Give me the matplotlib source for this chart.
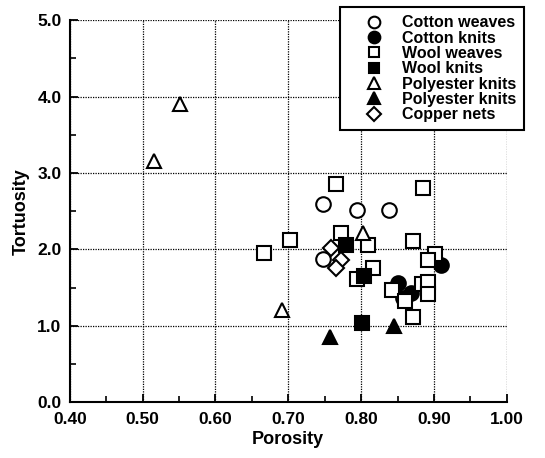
import matplotlib
matplotlib.use("Agg")
import matplotlib.pyplot as plt
from matplotlib.ticker import MultipleLocator, FormatStrFormatter

plt.rcParams['font.family'] = ['Liberation Sans', 'DejaVu Sans']
plt.rcParams['font.weight'] = 'bold'

# porosity / tortuosity
cotton_weaves_x = [0.747, 0.794, 0.838, 0.747]
cotton_weaves_y = [2.59, 2.51, 2.52, 1.88]

cotton_knits_x = [0.910, 0.851, 0.869, 0.857]
cotton_knits_y = [1.79, 1.56, 1.43, 1.36]

wool_weaves_x = [0.766, 0.885, 0.703, 0.667, 0.773, 0.809, 0.871, 0.901, 0.892,
                 0.816, 0.794, 0.843, 0.860, 0.883, 0.892, 0.892, 0.871]
wool_weaves_y = [2.85, 2.80, 2.12, 1.95, 2.22, 2.06, 2.11, 1.94, 1.86,
                 1.76, 1.61, 1.47, 1.32, 1.55, 1.57, 1.41, 1.11]

wool_knits_x = [0.779, 0.804, 0.801]
wool_knits_y = [2.06, 1.65, 1.04]

poly_open_x = [0.551, 0.515, 0.803, 0.691]
poly_open_y = [3.90, 3.16, 2.21, 1.21]

poly_filled_x = [0.757, 0.845]
poly_filled_y = [0.85, 1.00]

copper_x = [0.758, 0.773, 0.765]
copper_y = [2.02, 1.86, 1.76]

fig = plt.figure(figsize=(5.45, 4.58), dpi=100)
ax = fig.add_axes([0.128, 0.122, 0.802, 0.834])

ms = 9.5
mew = 1.5
ax.plot(cotton_weaves_x, cotton_weaves_y, 'o', ms=ms + 1, mfc='white', mec='black', mew=mew,
        label='Cotton weaves', zorder=3)
ax.plot(cotton_knits_x, cotton_knits_y, 'o', ms=ms + 1, mfc='black', mec='black', mew=mew,
        label='Cotton knits', zorder=3)
ax.plot(wool_weaves_x, wool_weaves_y, 's', ms=ms, mfc='white', mec='black', mew=mew,
        label='Wool weaves', zorder=4)
ax.plot(wool_knits_x, wool_knits_y, 's', ms=ms, mfc='black', mec='black', mew=mew,
        label='Wool knits', zorder=5)
ax.plot(poly_open_x, poly_open_y, '^', ms=ms + 1, mfc='white', mec='black', mew=mew,
        label='Polyester knits', zorder=4)
ax.plot(poly_filled_x, poly_filled_y, '^', ms=ms + 1, mfc='black', mec='black', mew=mew,
        label='Polyester knits', zorder=4)
ax.plot(copper_x, copper_y, 'D', ms=ms - 1, mfc='white', mec='black', mew=mew,
        label='Copper nets', zorder=4)

ax.set_xlim(0.40, 1.00)
ax.set_ylim(0.0, 5.0)
ax.xaxis.set_major_locator(MultipleLocator(0.1))
ax.xaxis.set_minor_locator(MultipleLocator(0.05))
ax.yaxis.set_major_locator(MultipleLocator(1.0))
ax.yaxis.set_minor_locator(MultipleLocator(0.5))
ax.xaxis.set_major_formatter(FormatStrFormatter('%.2f'))
ax.yaxis.set_major_formatter(FormatStrFormatter('%.1f'))

ax.grid(True, which='major', color='black', linestyle=(0, (1, 1)), linewidth=0.9)
ax.set_axisbelow(True)
for s in ['top', 'right']:
    ax.spines[s].set_visible(False)
for s in ['left', 'bottom']:
    ax.spines[s].set_linewidth(1.5)

ax.tick_params(which='major', direction='in', length=6, width=1.3, labelsize=12.5)
ax.tick_params(axis='x', which='major', pad=7)
ax.tick_params(axis='y', which='major', pad=6)
ax.tick_params(which='minor', direction='in', length=4, width=1.2)
for lab in ax.get_xticklabels() + ax.get_yticklabels():
    lab.set_fontweight('bold')

ax.set_xlabel('Porosity', fontsize=13, fontweight='bold', labelpad=3)
ax.set_ylabel('Tortuosity', fontsize=13, fontweight='bold', labelpad=5)

leg = ax.legend(loc='upper right', bbox_to_anchor=(0.962, 0.984), bbox_transform=fig.transFigure,
                fancybox=False, frameon=True, edgecolor='black', framealpha=1,
                prop={'size': 11.5, 'weight': 'bold'}, labelspacing=0.02, markerscale=0.8,
                handletextpad=0.1, handlelength=3.3, borderpad=0.5, borderaxespad=0)
leg.get_frame().set_linewidth(1.5)
leg.set_zorder(10)

fig.savefig('out.png', dpi=100)
